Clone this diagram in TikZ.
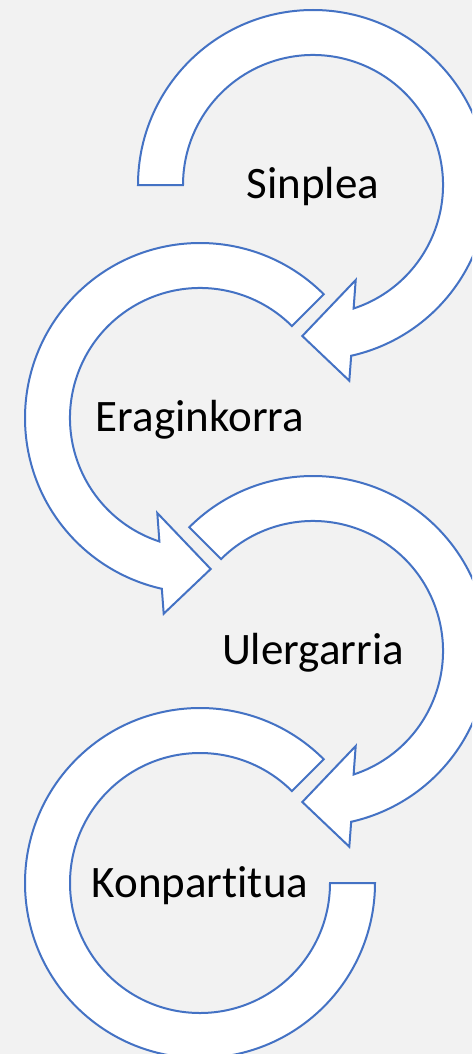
\documentclass[tikz,border=0pt]{standalone}
\usepackage{fontspec}
\setmainfont{Carlito}[Ligatures={NoCommon}]
\definecolor{bgcol}{HTML}{F2F2F2}
\definecolor{edgecol}{HTML}{4472C4}
\begin{document}
\begin{tikzpicture}[x=1pt,y=1pt,
  arrowshape/.style={draw=edgecol, fill=white, line width=2pt, line join=miter},
  lbl/.style={font=\fontsize{45}{52}\selectfont, anchor=base, text=black, inner sep=0pt}]
\useasboundingbox (0,0) rectangle (472,-1054);
\fill[bgcol] (0,0) rectangle (472,-1054);
\clip (0,0) rectangle (472,-1054);

% Circle 1 (Sinplea)
\begin{scope}[shift={(313,-185)}]
\draw[arrowshape] (180:175) arc[start angle=180, end angle=-77.4, radius=175]
  -- (36.3,-195.7) -- (-10.7,-151) -- (42.7,-95) -- (-71.8:130)
  arc[start angle=-71.8, end angle=180, radius=130] -- cycle;
\end{scope}

% Circle 2 (Eraginkorra), mirrored
\begin{scope}[shift={(200,-418)}, xscale=-1]
\draw[arrowshape] (135:175) arc[start angle=135, end angle=-77.4, radius=175]
  -- (36.3,-195.7) -- (-10.7,-151) -- (42.7,-95) -- (-71.8:130)
  arc[start angle=-71.8, end angle=135, radius=130] -- cycle;
\end{scope}

% Circle 3 (Ulergarria)
\begin{scope}[shift={(313,-651)}]
\draw[arrowshape] (135:175) arc[start angle=135, end angle=-77.4, radius=175]
  -- (36.3,-195.7) -- (-10.7,-151) -- (42.7,-95) -- (-71.8:130)
  arc[start angle=-71.8, end angle=135, radius=130] -- cycle;
\end{scope}

% Circle 4 (Konpartitua), mirrored, no arrowhead
\begin{scope}[shift={(200,-883)}, xscale=-1]
\draw[arrowshape] (135:175) arc[start angle=135, end angle=-180, radius=175]
  -- (-180:130) arc[start angle=-180, end angle=135, radius=130] -- cycle;
\end{scope}

\node[lbl] (sinplea) at (313,-198) {Sinplea};
\node[lbl] (eraginkorra) at (200,-431) {Eraginkorra};
\node[lbl] (ulergarria) at (313,-664) {Ulergarria};
\node[lbl] (konpartitua) at (200,-897) {Konpartitua};
\end{tikzpicture}
\end{document}
